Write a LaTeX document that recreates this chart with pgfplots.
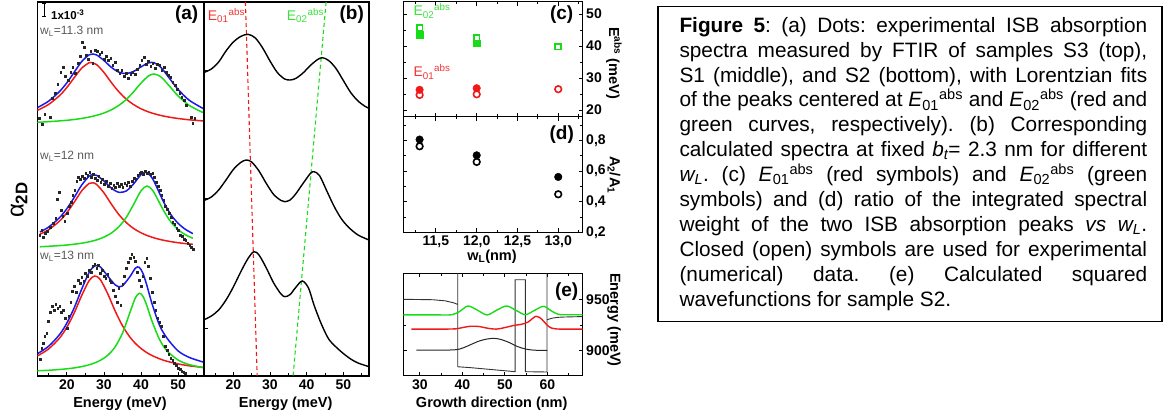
\documentclass[border=0pt]{standalone}
\usepackage{fontspec}
\setmainfont{Liberation Sans}
\usepackage{pgfplots}
\pgfplotsset{compat=1.18}
\definecolor{myred}{RGB}{240,25,25}
\definecolor{mygreen}{RGB}{25,220,25}
\definecolor{myblue}{RGB}{25,25,235}
\definecolor{labred}{RGB}{245,50,50}
\definecolor{labgreen}{RGB}{60,225,60}
\newcommand\tfont{\fontsize{14}{14}\selectfont\bfseries}
\newcommand\lfont{\fontsize{14.5}{14.5}\selectfont\bfseries}
\pgfplotsset{
  myaxis/.style={
    scale only axis, anchor=south west,
    axis line style={line width=1.3pt},
    tick style={line width=0.9pt, black},
    tick align=inside,
    major tick length=4pt, minor tick length=2.5pt,
    ticklabel style={font=\tfont},
    /pgf/number format/assume math mode=true,
  },
}
\begin{document}
\frenchspacing
\begin{tikzpicture}
\useasboundingbox (0pt,0pt) rectangle (1169pt,419pt);
% ---------------- panel (a)
\begin{axis}[myaxis, at={(37.3pt,43pt)}, width=166.7pt, height=374pt,
  xmin=12, xmax=57, ymin=0, ymax=374,
  xtick={20,30,40,50}, minor xtick={15,25,35,45,55}, xtick pos=left,
  ytick=\empty]
% top spectrum (wL=11.3)
\addplot[myred, line width=1.5pt, smooth] coordinates {(12,265.6) (15,271.4) (18,280.4) (20,288.6) (22,298.5) (24,307.9) (26,313.3) (26.5,313.5) (28,311.4) (30,303.5) (32,293.4) (34,284.3) (36,276.9) (38,271.4) (40,267.2) (42,264.1) (44,261.8) (46,260) (48,258.6) (50,257.5) (53,256.2) (57,255)};
\addplot[mygreen, line width=1.5pt, smooth] coordinates {(12,253.7) (15,254.3) (18,255.1) (20,255.7) (22,256.5) (24,257.6) (26,258.9) (28,260.7) (30,263) (32,266.2) (34,270.6) (36,276.5) (38,284.2) (40,292.9) (42,300) (43.5,302) (45,300) (46,296.9) (48,288.5) (50,280.1) (53,270.6) (57,263)};
\addplot[myblue, line width=1.5pt, smooth] coordinates {(12,268.3) (15,274.7) (18,284.5) (20,293.3) (22,304) (24,314.5) (26,321.2) (27,322) (28,321.1) (30,315.5) (32,308.6) (34,303.9) (36,302.4) (38,304.6) (40,309.1) (42,313.1) (43.5,313.3) (45,309.8) (46,305.9) (48,296.1) (50,286.6) (53,275.8) (57,267)};
\addplot[only marks, mark=square*, mark size=0.8pt, black!85] coordinates {(12.5,258) (13.3,252) (14,262) (15.5,259) (16,278) (16.8,283) (17.5,292) (18.3,304) (19,309) (19.6,300) (20.3,296) (21,304) (21.6,309) (22.3,303) (23,313) (23.6,320) (24.2,334) (24.6,329) (25.2,321) (25.8,317) (26.4,325) (27,313) (27.6,326) (28.2,325) (28.8,322) (29.4,324) (30,317) (30.6,320) (31.2,316) (31.8,318) (32.4,311) (33,314) (33.6,306) (34.2,303) (34.8,306) (35.4,300) (36,303) (36.6,298) (37.2,302) (37.8,304) (38.4,302) (39,307) (39.6,311) (40.2,316) (40.8,319) (41.4,312) (42,315) (42.6,310) (43.2,313) (43.8,308) (44.4,312) (45,311) (45.6,306) (46.2,309) (46.8,304) (47.4,301) (48,299) (48.6,294) (49.2,291) (49.8,287) (50.4,283) (51,279) (51.6,276) (52.2,271) (53.5,259) (54,253) (54.5,258)};
% middle spectrum (wL=12)
\addplot[myred, line width=1.5pt, smooth] coordinates {(12.7,141.8) (15,146.1) (18,154.9) (20,163.4) (22,174) (24,185.2) (26,192.6) (27,193.2) (28,191.6) (30,183.1) (32,171.8) (34,161.5) (36,153.5) (38,147.5) (40,143.2) (42,140) (44,137.6) (46,135.8) (48,134.4) (50,133.3) (52,132.4) (54,131.7)};
\addplot[mygreen, line width=1.5pt, smooth] coordinates {(12.7,129.2) (15,129.7) (18,130.4) (20,131) (22,131.8) (24,132.8) (26,134.2) (28,136.1) (30,138.9) (32,143) (34,149.2) (36,158.5) (38,171.6) (40,185.2) (41.6,190) (43,186.3) (44,180.2) (46,166) (48,154.3) (50,146.4) (52,141.2) (54,137.7)};
\addplot[myblue, line width=1.5pt, smooth] coordinates {(12.7,144) (15,148.8) (18,158.3) (20,167.4) (22,178.8) (24,191) (26,199.8) (27,201.3) (28,200.7) (30,195) (32,187.8) (34,183.7) (36,185) (38,192.1) (40,201.4) (41.5,203.7) (43,198) (44,190.8) (46,174.8) (48,161.7) (50,152.7) (52,146.6) (54,142.4)};
\addplot[only marks, mark=square*, mark size=0.8pt, black!85] coordinates {(12.7,141) (13.2,146) (13.6,139) (14.1,143) (14.6,145) (15.5,149) (16.3,153) (17,158) (17.4,177) (17.9,184) (18.4,166) (18.9,160) (19.4,155) (20,163) (20.6,170) (21.1,174) (21.6,181) (22.1,186) (22.6,195) (23.1,199) (23.6,197) (24.1,200) (24.6,198) (25.1,203) (25.6,201) (26.1,204) (26.6,199) (27.1,202) (27.6,198) (28.1,196) (28.6,200) (29.1,194) (29.6,197) (30.1,192) (30.6,195) (31.1,190) (31.6,193) (32.1,188) (32.6,191) (33.1,189) (33.6,193) (34.1,190) (34.6,192) (35.1,189) (35.6,193) (36.1,191) (36.6,194) (37.1,190) (37.6,195) (38.1,198) (38.6,197) (39.1,201) (39.6,203) (40.1,204) (40.6,202) (41.1,205) (41.6,203) (42.1,204) (42.6,202) (43.1,203) (43.6,199) (44.1,194) (44.6,190) (45.1,186) (45.6,181) (46.1,176) (46.6,170) (47.1,167) (47.6,163) (48.1,159) (48.6,154) (49.1,152) (49.6,148) (50.1,146) (50.6,141) (51.1,140) (51.6,137) (52.1,136) (52.6,133) (53.1,131) (53.6,129) (54.1,127)};
% bottom spectrum (wL=13)
\addplot[myred, line width=1.5pt, smooth] coordinates {(12,20) (15,26.9) (18,37.9) (20,48.9) (22,63.4) (24,80.6) (26,95.4) (27.5,100) (29,96.5) (31,82.3) (33,65.1) (35,50.2) (37,38.9) (38.5,32.5) (40,27.5) (41.5,23.5) (43,20.4) (45,17.2) (47,14.7) (50,12.1) (53,10.2) (57,8.5)};
\addplot[mygreen, line width=1.5pt, smooth] coordinates {(12,5.2) (15,5.7) (18,6.5) (20,7.2) (22,8.1) (24,9.4) (26,11.2) (27.5,13.1) (29,15.6) (31,20.7) (33,29.1) (35,42.9) (37,63.4) (38.5,78.4) (39.6,82.7) (40.5,79.8) (41.5,71.1) (43,54.5) (45,36.5) (47,25.2) (50,16) (53,11.4) (57,8.2)};
\addplot[myblue, line width=1.5pt, smooth] coordinates {(12,22.2) (15,29.6) (18,41.4) (20,53.1) (22,68.5) (24,87) (26,103.6) (27.5,110.1) (29,109.1) (31,100) (33,91.2) (34.2,89.2) (35,90.1) (37,99.3) (38.5,107.9) (39.5,108.7) (40.5,102.8) (41.5,91.6) (43,71.9) (45,50.7) (47,37.9) (50,25.1) (53,18.6) (57,13.7)};
\addplot[only marks, mark=square*, mark size=0.8pt, black!85] coordinates {(12.8,17) (13.2,28) (13.6,33) (14,40) (14.5,43) (15,55) (15.5,64) (16,70) (16.5,66) (17,72) (17.5,68) (18,70) (18.5,64) (19,66) (19.5,58) (20,48) (20.5,60) (21,74) (21.5,85) (22,90) (22.5,84) (23,96) (23.5,93) (24,99) (24.5,95) (25,103) (25.5,100) (26,106) (26.5,104) (27,110) (27.5,112) (28,108) (28.5,111) (29,103) (29.5,106) (30,100) (30.5,98) (31,102) (31.5,96) (32,94) (32.5,86) (33,80) (33.5,74) (34,88) (34.5,71) (35,92) (35.5,100) (36,108) (36.5,114) (37,118) (37.5,122) (38,119) (38.5,115) (39,104) (39.5,96) (40,90) (40.5,100) (41,114) (41.5,118) (42,110) (42.5,98) (43,84) (43.5,74) (44,66) (44.5,58) (45,54) (45.5,50) (46,40) (46.5,30) (47,26) (47.5,22) (48,18) (48.5,16) (49,13) (49.5,11) (50,8) (50.5,7) (51,5) (51.5,4) (52,3)};
\end{axis}
% ---------------- panel (b)
\begin{axis}[myaxis, at={(204pt,43pt)}, width=165pt, height=374pt,
  xmin=12, xmax=57, ymin=0, ymax=374,
  xtick={20,30,40,50}, minor xtick={15,25,35,45,55}, xtick pos=left,
  ytick={47.7,177.7,306}, yticklabels={,,}, ytick pos=left]
\addplot[myred, line width=1.1pt, dash pattern=on 4pt off 3pt] coordinates {(23.3,374) (26.5,0)};
\addplot[mygreen, line width=1.1pt, dash pattern=on 4pt off 3pt] coordinates {(45.3,374) (36.3,0)};
\addplot[black, line width=1.4pt, smooth] coordinates {(12,303.5) (14,307) (16,314) (18,325) (20,334) (22,339.5) (24,341.7) (26,338) (28,328) (30,315) (32,303.5) (34,297) (35.5,296) (37,297.5) (39,303) (41,310.5) (43,316.5) (44.3,318.3) (46,315.5) (48,307.5) (50,295.5) (52,283.5) (54,275) (56,269.5) (57,267.7)};
\addplot[black, line width=1.4pt, smooth] coordinates {(12,175.5) (14,179) (16,186) (18,196) (20,206.5) (22,213.5) (23.5,216) (25,214) (27,205) (29,192.5) (31,181.5) (33,175.5) (34,174.3) (35.5,176) (37,182) (39,192.5) (41,202.5) (42,204.3) (43.5,200.5) (45.5,185) (47.5,169.5) (49.5,157) (51.5,148.5) (54,141) (57,136)};
\addplot[black, line width=1.4pt, smooth] coordinates {(12,56.2) (14,60) (16,66) (18,76) (20,89) (22,104) (24,117.5) (25.6,124.3) (27,121) (29,108) (31,93) (33,82) (34.1,79.3) (35.5,81.5) (37,88.5) (38.8,95) (40.5,88) (42,71) (44,52) (46,37) (48,29) (50,22.5) (52,17) (54,13) (57,9.3)};
\end{axis}
% ---------------- panel (c)
\begin{axis}[myaxis, at={(403.3pt,302.3pt)}, width=179.4pt, height=115pt,
  xmin=11.1, xmax=13.3, ymin=17.9, ymax=53.85,
  xtick={11.5,12,12.5,13}, minor xtick={11.25,11.75,12.25,12.75,13.25}, xticklabels={,,,},
  ytick={20,30,40,50}, minor ytick={25,35,45},
  yticklabel pos=right, ytick pos=both]
\addplot[only marks, draw=mygreen, fill=mygreen, mark=square*, mark size=3.4pt, mark options={draw=mygreen, fill=mygreen}] coordinates {(11.3,43.5) (12.0,40.9)};
\addplot[only marks, draw=mygreen, fill=white, mark=square*, mark size=2.9pt, mark options={draw=mygreen, fill=white, line width=1.7pt}] coordinates {(11.3,45.7) (12.0,42.6) (13.0,39.8)};
\addplot[only marks, draw=myred, fill=white, mark=*, mark size=3.3pt, mark options={draw=myred, fill=white, line width=1.6pt}] coordinates {(11.3,24.7) (12.0,24.9) (13.0,26.5)};
\addplot[only marks, draw=myred, fill=myred, mark=*, mark size=3.8pt, mark options={draw=myred, fill=myred}] coordinates {(11.3,26.3) (12.0,26.8)};
\end{axis}
% ---------------- panel (d)
\begin{axis}[myaxis, at={(403.3pt,186.7pt)}, width=179.4pt, height=115.6pt,
  xmin=11.1, xmax=13.3, ymin=0.2, ymax=0.954,
  xtick={11.5,12,12.5,13}, minor xtick={11.25,11.75,12.25,12.75,13.25},
  xticklabel style={/pgf/number format/.cd, fixed, fixed zerofill, precision=1, use comma},
  ytick={0.2,0.4,0.6,0.8}, minor ytick={0.3,0.5,0.7,0.9},
  yticklabel style={/pgf/number format/.cd, fixed, fixed zerofill, precision=1, use comma},
  yticklabel pos=right, ytick pos=both]
\addplot[only marks, draw=black, fill=white, mark=*, mark size=3.3pt, mark options={draw=black, fill=white, line width=1.6pt}] coordinates {(11.3,0.761) (12.0,0.659) (13.0,0.448)};
\addplot[only marks, draw=black, fill=black, mark=*, mark size=3.8pt, mark options={draw=black, fill=black}] coordinates {(11.3,0.805) (12.0,0.702) (13.0,0.561)};
\end{axis}
% ---------------- panel (e)
\begin{axis}[myaxis, at={(403.3pt,43.3pt)}, width=179.4pt, height=102.4pt,
  xmin=26.1, xmax=68.3, ymin=875.7, ymax=975.3,
  xtick={30,40,50,60}, minor xtick={35,45,55,65},
  ytick={900,950}, minor ytick={925},
  yticklabel pos=right, ytick pos=both]
\addplot[black!80, line width=0.9pt] coordinates {(26.1,950) (33,949.6) (36,948.5) (38,946.5) (38.9,945) (38.9,990) (38.9,884.4) (42,883.5) (46,882) (50,880.5) (52.4,879.6) (52.4,969) (54.8,969) (54.8,879.6) (59.9,879.3) (59.9,990)};
\addplot[black!80, line width=0.9pt, smooth] coordinates {(59.9,930) (61,931.5) (63,932.6) (68.3,933.2)};
\addplot[black!85, line width=1pt, smooth] coordinates {(29.2,900.5) (35,900.5) (38.5,901) (40,902.5) (42,906) (44,909.5) (46,911.5) (47.5,912) (49,911) (51,908) (53,904) (55,901.5) (57,900.5) (60,900.2)};
\addplot[myred, line width=1.4pt, smooth] coordinates {(28,921) (35,921) (38.5,921.3) (40,922.5) (42,923.8) (44,923.5) (46,921.8) (48,921) (50,922.5) (52,924.5) (54,925.8) (55.5,928) (57.3,933.5) (58.7,930.5) (59.9,925) (61,922) (63,921) (68.3,921)};
\addplot[mygreen, line width=1.4pt, smooth] coordinates {(26.1,934.8) (34,934.8) (37.5,935) (39.3,938) (41.3,943.5) (43.5,939.5) (45.8,934.8) (48.1,939.5) (50.4,943.5) (52.6,939.3) (54.8,935) (57,939.3) (59.1,943.2) (61,938.5) (62.5,935.5) (64,935) (68.3,935)};
\end{axis}
% ---------------- annotations
\draw[line width=0.8pt] (44.3pt,416pt) -- (44.3pt,403pt) (42.3pt,416pt) -- (46.3pt,416pt) (42.3pt,403pt) -- (46.3pt,403pt);
\node[anchor=base west, inner sep=0pt, font=\fontsize{11.5}{11.5}\selectfont\bfseries] at (51pt,399.5pt) {1x10\textsuperscript{-3}};
\node[anchor=base west, inner sep=0pt, text=black!65, font=\fontsize{12}{12}\selectfont] at (40pt,384pt) {w\textsubscript{L}=11.3 nm};
\node[anchor=base west, inner sep=0pt, text=black!65, font=\fontsize{12}{12}\selectfont] at (40pt,259pt) {w\textsubscript{L}=12 nm};
\node[anchor=base west, inner sep=0pt, text=black!65, font=\fontsize{12}{12}\selectfont] at (40pt,159pt) {w\textsubscript{L}=13 nm};
\node[font=\fontsize{19}{19}\selectfont\bfseries] at (186.7pt,404pt) {(a)};
\node[font=\fontsize{19}{19}\selectfont\bfseries] at (351.7pt,404pt) {(b)};
\node[font=\fontsize{19}{19}\selectfont\bfseries] at (561.7pt,404pt) {(c)};
\node[font=\fontsize{19}{19}\selectfont\bfseries] at (561.7pt,284pt) {(d)};
\node[font=\fontsize{19}{19}\selectfont\bfseries] at (566.7pt,127.3pt) {(e)};
\node[anchor=base west, inner sep=0pt, text=labred, font=\fontsize{14}{14}\selectfont] at (207.7pt,398.5pt) {E\textsubscript{01}\textsuperscript{abs}};
\node[anchor=base west, inner sep=0pt, text=labgreen, font=\fontsize{14}{14}\selectfont] at (286.7pt,398.5pt) {E\textsubscript{02}\textsuperscript{abs}};
\node[anchor=base west, inner sep=0pt, text=labgreen, font=\fontsize{14}{14}\selectfont] at (413.3pt,403pt) {E\textsubscript{02}\textsuperscript{abs}};
\node[anchor=base west, inner sep=0pt, text=labred, font=\fontsize{14}{14}\selectfont] at (413.3pt,342pt) {E\textsubscript{01}\textsuperscript{abs}};
\node[font=\lfont] at (120pt,15pt) {Energy (meV)};
\node[font=\lfont] at (285.7pt,15pt) {Energy (meV)};
\node[rotate=90] at (19pt,219pt) {\fontsize{24}{24}\selectfont α\textsubscript{\bfseries 2D}};
\node[font=\lfont] at (492pt,162pt) {w\textsubscript{L}(nm)};
\node[font=\lfont] at (491.7pt,15pt) {Growth direction (nm)};
\node[font=\lfont, rotate=-90] at (614pt,356pt) {E\textsuperscript{abs} (meV)};
\node[font=\lfont, rotate=-90] at (614pt,244pt) {A\textsubscript{2}/A\textsubscript{1}};
\node[font=\lfont, rotate=-90] at (614pt,99pt) {Energy (meV)};
% ---------------- caption
\draw[line width=1.3pt] (658pt,97.3pt) rectangle (1162pt,412.3pt);
\node[anchor=base west, inner sep=0pt] at (679.3pt,386.7pt) {\parbox[t]{467.7pt}{\fontsize{20.8}{24.9}\selectfont\frenchspacing
\makebox[467.7pt][s]{\textbf{Figure 5}: (a) Dots: experimental ISB absorption}\\
\makebox[467.7pt][s]{spectra measured by FTIR of samples S3 (top),}\\
\makebox[467.7pt][s]{S1 (middle), and S2 (bottom), with Lorentzian fits}\\
\makebox[467.7pt][s]{of the peaks centered at \textit{E}\textsubscript{01}\textsuperscript{abs} and \textit{E}\textsubscript{02}\textsuperscript{abs} (red and}\\
\makebox[467.7pt][s]{green curves, respectively). (b) Corresponding}\\
\makebox[467.7pt][s]{calculated spectra at fixed \textit{b\textsubscript{t}}= 2.3 nm for different}\\
\makebox[467.7pt][s]{\textit{w\textsubscript{L}}. (c) \textit{E}\textsubscript{01}\textsuperscript{abs} (red symbols) and \textit{E}\textsubscript{02}\textsuperscript{abs} (green}\\
\makebox[467.7pt][s]{symbols) and (d) ratio of the integrated spectral}\\
\makebox[467.7pt][s]{weight of the two ISB absorption peaks \textit{vs w\textsubscript{L}}.}\\
\makebox[467.7pt][s]{Closed (open) symbols are used for experimental}\\
\makebox[467.7pt][s]{(numerical) data. (e) Calculated squared}\\
wavefunctions for sample S2.}};
\end{tikzpicture}
\end{document}
